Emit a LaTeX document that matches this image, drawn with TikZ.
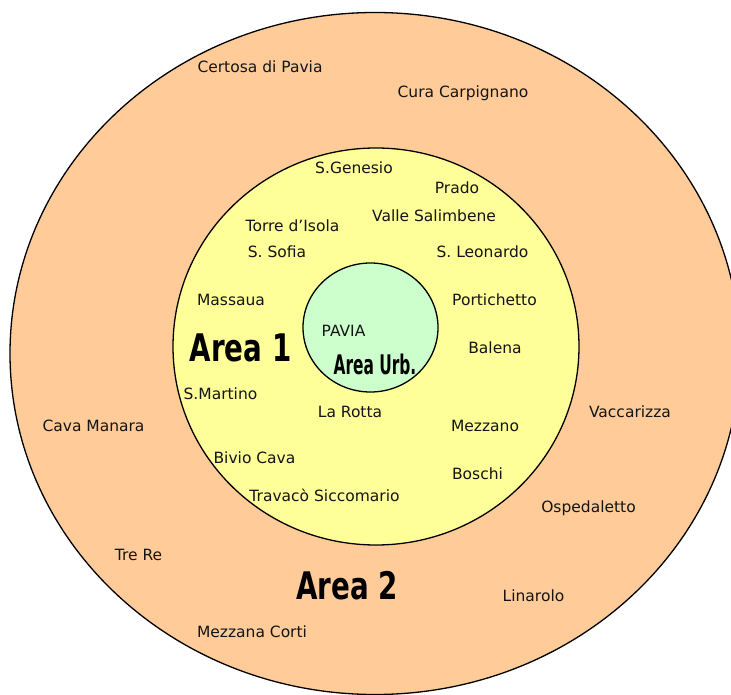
\documentclass[tikz,border=0pt]{standalone}
\usepackage{fontspec}
\usepackage{graphicx}
\setmainfont{DejaVu Sans}
\definecolor{outerfill}{RGB}{255,204,153}
\definecolor{innerfill}{RGB}{255,255,153}
\definecolor{corefill}{RGB}{204,255,204}
\definecolor{txt}{RGB}{20,20,20}
\tikzset{
  ring/.style={draw=black, line width=1.3pt},
  place/.style={anchor=base, inner sep=0pt, text=txt, font=\fontsize{15.5}{18}\selectfont},
  bigarea/.style={anchor=base, inner sep=0pt, text=black, font=\fontsize{38}{42}\bfseries},
  urbarea/.style={anchor=base, inner sep=0pt, text=black, font=\fontsize{27}{30}\bfseries}
}
\begin{document}
\begin{tikzpicture}[x=1pt,y=-1pt]
\useasboundingbox (0,0) rectangle (731,695);
\clip (0,0) rectangle (731,695);
\fill[white] (0,0) rectangle (731,695);
% rings
\draw[ring, fill=outerfill] (375,353.5) ellipse [x radius=365, y radius=341];
\draw[ring, fill=innerfill] (376,346.5) ellipse [x radius=203, y radius=198.5];
\draw[ring, fill=corefill] (370.5,327.5) ellipse [x radius=67.5, y radius=64.5];
% outer ring places
\node[place] (certosa) at (260,72.5) {Certosa di Pavia};
\node[place] (cura) at (463,97.5) {Cura Carpignano};
\node[place] (cava) at (93.5,431.5) {Cava Manara};
\node[place] (vaccarizza) at (630,417.5) {Vaccarizza};
\node[place] (ospedaletto) at (588.5,512.5) {Ospedaletto};
\node[place] (trere) at (138.5,560.5) {Tre Re};
\node[place] (linarolo) at (533.5,601.5) {Linarolo};
\node[place] (mezzana) at (252,637.5) {Mezzana Corti};
% inner ring places
\node[place] (genesio) at (354,173.5) {S.Genesio};
\node[place] (prado) at (457,193.5) {Prado};
\node[place] (valle) at (434,221.5) {Valle Salimbene};
\node[place] (torre) at (292.5,231.5) {Torre d’Isola};
\node[place] (sofia) at (277,257.5) {S. Sofia};
\node[place] (leonardo) at (482.5,257.5) {S. Leonardo};
\node[place] (massaua) at (231,305.5) {Massaua};
\node[place] (portichetto) at (494.5,305.5) {Portichetto};
\node[place] (balena) at (495,353.5) {Balena};
\node[place] (martino) at (220.5,399.5) {S.Martino};
\node[place] (rotta) at (350,417.5) {La Rotta};
\node[place] (mezzano) at (485,431.5) {Mezzano};
\node[place] (bivio) at (254.5,463.5) {Bivio Cava};
\node[place] (boschi) at (477.5,479.5) {Boschi};
\node[place] (travaco) at (324.5,501.5) {Travacò Siccomario};
% core
\node[place] (pavia) at (343.5,336.5) {PAVIA};
% area labels
\node[bigarea] (area1) at (240.5,361) {\scalebox{0.73}[1]{Area 1}};
\node[bigarea] (area2) at (347,599) {\scalebox{0.73}[1]{Area 2}};
\node[urbarea] (areaurb) at (375,374) {\scalebox{0.57}[1]{Area Urb.}};
\end{tikzpicture}
\end{document}
